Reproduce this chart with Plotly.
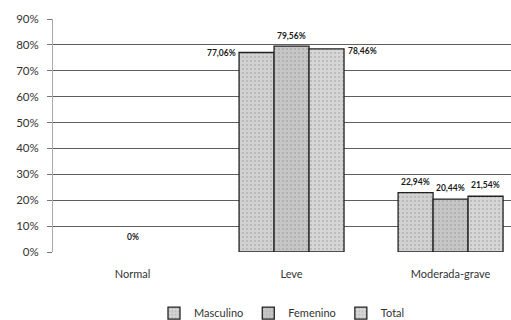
import plotly.graph_objects as go

# Severity categories and percentage per group
categories = ["Normal", "Leve", "Moderada-grave"]
masculino = [0.0, 77.06, 22.94]
femenino = [0.0, 79.56, 20.44]
total = [0.0, 78.46, 21.54]
series_names = ["Masculino", "Femenino", "Total"]
y_ticks = [0, 10, 20, 30, 40, 50, 60, 70, 80, 90]

series = [masculino, femenino, total]
fills = ["#d2d2d2", "#c6c6c6", "#d6d6d6"]

BARGAP = 0.34
bar_w = (1 - BARGAP) / 3

# Draw non-empty categories first so the legend swatch takes a bordered bar
order = [1, 2, 0]

fig = go.Figure()
for name, vals, col in zip(series_names, series, fills):
    fig.add_bar(
        x=order, y=[vals[i] for i in order], name=name,
        marker=dict(color=col,
                    line=dict(color="#222",
                              width=[1.3 if vals[i] > 0 else 0 for i in order]),
                    pattern=dict(shape=".", fgcolor="#8f8f8f", size=4, solidity=0.18)),
    )


def fmt(v):
    return f"<b>{v:.2f}".replace(".", ",") + "%</b>"


# Label placement for each bar: (xanchor, yanchor, xshift, yshift)
placement = {
    (1, 0): ("right", "middle", -1, 0),
    (1, 1): ("center", "bottom", 0, 3),
    (1, 2): ("left", "middle", 2, -2),
}
for ci in range(len(categories)):
    for si, vals in enumerate(series):
        v = vals[ci]
        if v == 0:
            continue
        xa, ya, xs, ys = placement.get((ci, si), ("center", "bottom", 0, 4))
        xc = ci + (si - 1) * bar_w
        if xa == "right":
            xc -= bar_w / 2
        elif xa == "left":
            xc += bar_w / 2
        fig.add_annotation(x=xc, y=v, text=fmt(v), showarrow=False,
                           xanchor=xa, yanchor=ya, xshift=xs, yshift=ys,
                           font=dict(size=8.5, color="#1a1a1a", family="Lato"))

# Zero label for the empty category
fig.add_annotation(x=0, y=masculino[0], text="<b>0%</b>", showarrow=False,
                   yanchor="bottom", yshift=8,
                   font=dict(size=8.5, color="#1a1a1a", family="Lato"))

fig.update_layout(
    width=511, height=320,
    margin=dict(l=53, r=0, t=19, b=68, autoexpand=False),
    paper_bgcolor="white", plot_bgcolor="white",
    barmode="group", bargap=BARGAP, bargroupgap=0,
    font=dict(family="Lato", color="#333"),
    showlegend=True,
    legend=dict(orientation="h", x=0.5, xanchor="center", y=-0.2, yanchor="top",
                font=dict(size=11, color="#333"), itemwidth=30,
                traceorder="normal", tracegroupgap=0),
    xaxis=dict(tickmode="array", tickvals=list(range(len(categories))),
               ticktext=categories, range=[-0.5, 2.38], showgrid=False,
               zeroline=False, showline=False, ticks="", ticklabelstandoff=14,
               automargin=False, tickfont=dict(size=11, color="#333")),
    yaxis=dict(range=[0, 90], tickvals=y_ticks,
               ticktext=[f"{t}%" for t in y_ticks],
               showgrid=True, gridcolor="#5e5e5e", gridwidth=1,
               zeroline=False, showline=True, linecolor="#aaa", linewidth=1,
               ticks="outside", ticklen=5, tickcolor="#777", ticklabelstandoff=6,
               automargin=False, tickfont=dict(size=11.5, color="#333")),
)

fig.write_html("out.html")
